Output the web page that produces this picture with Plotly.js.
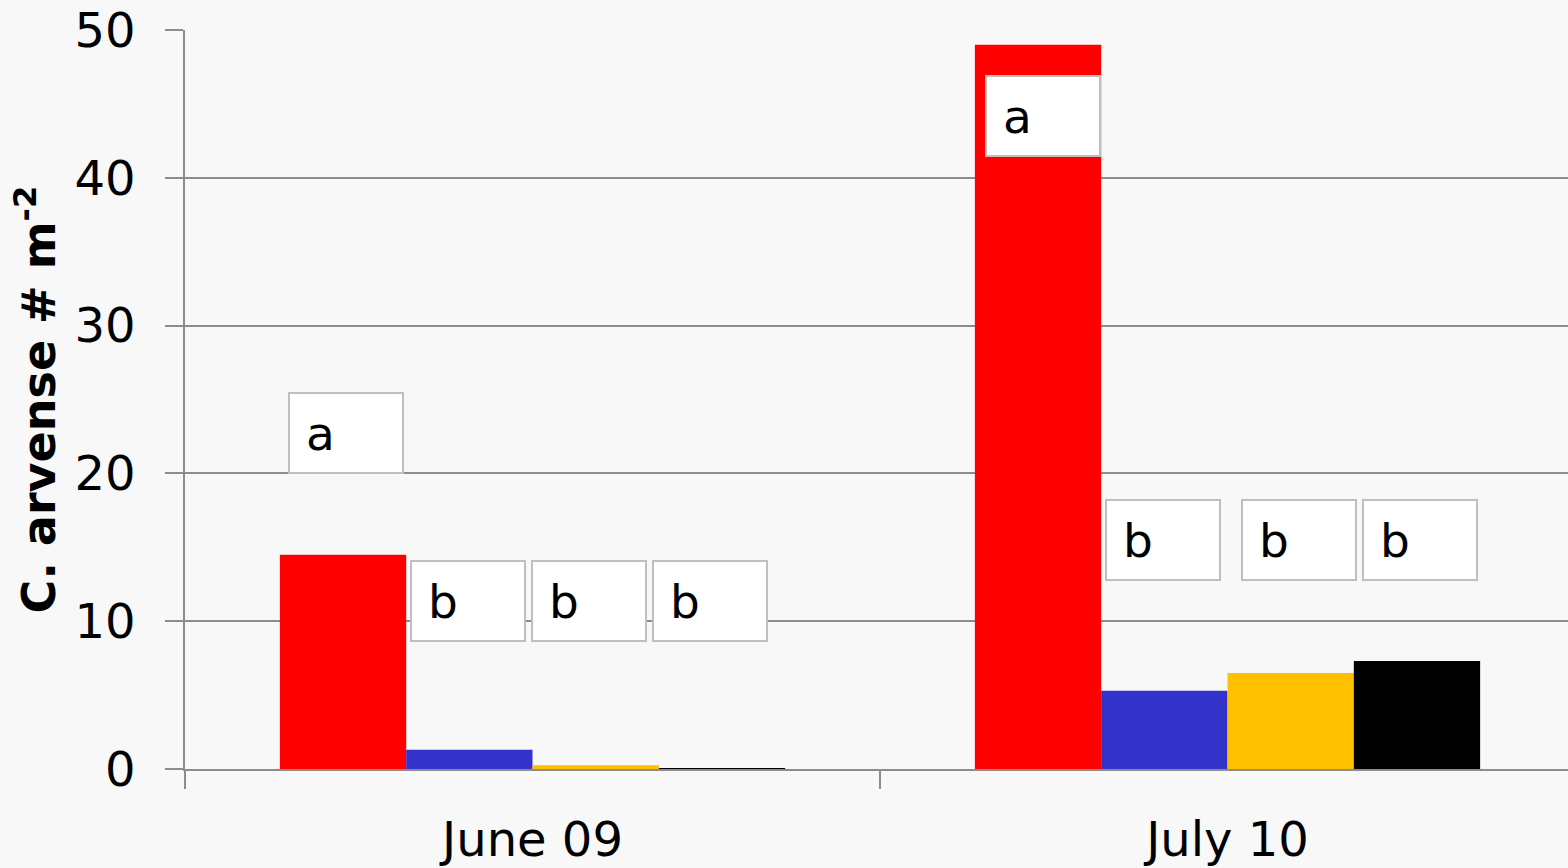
<!DOCTYPE html>
<html>
<head>
<meta charset="utf-8">
<script src="https://cdn.plot.ly/plotly-3.0.1.min.js"></script>
<style>
html,body{margin:0;padding:0;background:#f8f8f8;overflow:hidden;}
#chart{width:1575px;height:868px;}
</style>
</head>
<body>
<div id="chart"></div>
<script>
// Data
const categories = ["June 09", "July 10"];
const seriesNames = ["Treatment 1", "Treatment 2", "Treatment 3", "Treatment 4"];
const series1 = [14.5, 49.0];
const series2 = [1.3, 5.3];
const series3 = [0.25, 6.5];
const series4 = [0.05, 7.3];
const letters = [["a", "b", "b", "b"], ["a", "b", "b", "b"]];

// Styles
const colors = ["#ff0000", "#3333cc", "#ffc000", "#000000"];
const allSeries = [series1, series2, series3, series4];

const traces = allSeries.map((vals, i) => ({
  type: "bar",
  name: seriesNames[i],
  x: categories,
  y: vals,
  marker: {color: colors[i], line: {width: 0}},
  hoverinfo: "x+y+name"
}));

// annotation label placement (layout, not data)
const labelOffsets = [[-0.268, -0.093, 0.081, 0.255], [-0.266, -0.093, 0.103, 0.277]];
const labelHeights = [[22.7, 11.4, 11.4, 11.4], [44.2, 15.5, 15.5, 15.5]];

const annotations = [];
letters.forEach((row, c) => {
  row.forEach((t, j) => {
    annotations.push({
      xref: "x", yref: "y",
      x: c + labelOffsets[c][j],
      y: labelHeights[c][j],
      text: "\u00a0" + t,
      showarrow: false,
      align: "left",
      valign: "middle",
      width: 110,
      height: 76,
      bgcolor: "#ffffff",
      bordercolor: "#bfbfbf",
      borderwidth: 2,
      borderpad: 1,
      font: {family: "DejaVu Sans, Verdana, sans-serif", size: 47, color: "#000000"}
    });
  });
});

const layout = {
  width: 1575,
  height: 868,
  margin: {l: 185, r: 0, t: 30, b: 99},
  paper_bgcolor: "#f8f8f8",
  plot_bgcolor: "#f8f8f8",
  barmode: "group",
  bargap: 0.273,
  bargroupgap: 0,
  showlegend: false,
  font: {family: "DejaVu Sans, Verdana, sans-serif", color: "#000000"},
  xaxis: {
    type: "category",
    tickson: "boundaries",
    ticks: "outside",
    ticklen: 18,
    tickwidth: 1.5,
    tickcolor: "#8c8c8c",
    showgrid: false,
    showline: true,
    linecolor: "#8c8c8c",
    linewidth: 1.5,
    zeroline: false,
    tickfont: {size: 48, family: "DejaVu Sans, Verdana, sans-serif"},
    ticklabelstandoff: 28
  },
  yaxis: {
    range: [0, 50],
    dtick: 10,
    tick0: 0,
    ticks: "outside",
    ticklen: 18,
    tickwidth: 1.5,
    tickcolor: "#8c8c8c",
    showgrid: true,
    gridcolor: "#8c8c8c",
    gridwidth: 1.5,
    showline: true,
    linecolor: "#8c8c8c",
    linewidth: 1.5,
    zeroline: false,
    tickfont: {size: 48, family: "DejaVu Sans, Verdana, sans-serif"},
    ticklabelstandoff: 20,
    title: {
      text: "<b>C. arvense # m<sup>-2</sup></b>",
      font: {size: 46, family: "DejaVu Sans, Verdana, sans-serif"},
      standoff: 4
    }
  },
  annotations: annotations
};

Plotly.newPlot("chart", traces, layout, {displayModeBar: false});
</script>
</body>
</html>
